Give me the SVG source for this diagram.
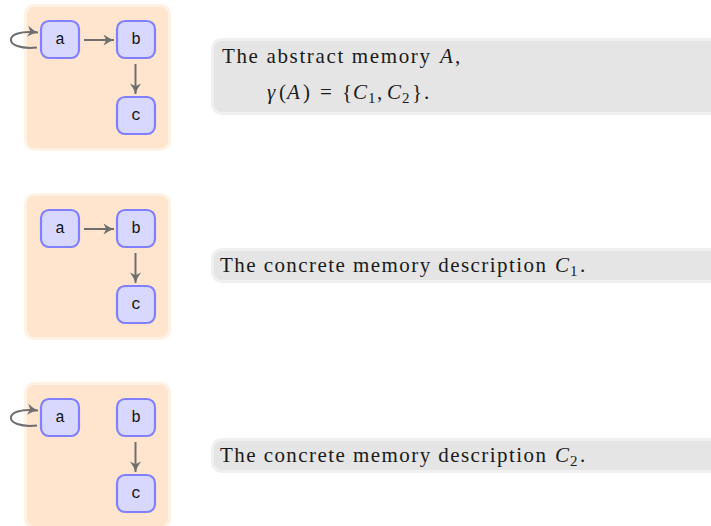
<svg xmlns="http://www.w3.org/2000/svg" width="711" height="526" viewBox="0 0 711 526">
<style>
.panel{fill:#ffe5ce;stroke:#fff1e4;stroke-width:3}
.node rect{fill:#d8d8ff;stroke:#8080ff;stroke-width:2.2}
.node text{font-family:"Liberation Mono",monospace;font-size:16px;fill:#111;text-anchor:middle}
.box{fill:#e5e5e5;stroke:#f0f0f0;stroke-width:3}
.t{font-family:"Liberation Serif",serif;font-size:21px;fill:#1a1a1a}
.m{font-family:"Liberation Serif",serif;font-size:21px;fill:#1a1a1a;font-style:italic}
.s{font-family:"Liberation Serif",serif;font-size:15px;fill:#1a1a1a}
.edge{fill:none;stroke:#6e6e6e;stroke-width:2;marker-end:url(#ah)}
</style>
<defs>
<marker id="ah" markerUnits="userSpaceOnUse" markerWidth="13" markerHeight="13" refX="11" refY="6.5" orient="auto">
<path d="M0.5,1 Q5.5,4.8 11,6.5 Q5.5,8.2 0.5,12 L3.2,6.5 z" fill="#6e6e6e"/>
</marker>
</defs>

<!-- Panel 1 -->
<g id="panel1">
<rect class="panel" x="25.5" y="5.5" width="144" height="144" rx="9"/>
</g>
<g id="p1-a" class="node"><rect x="41" y="21" width="38" height="37" rx="8"/><text x="60" y="44">a</text></g>
<g id="p1-b" class="node"><rect x="117" y="21" width="38" height="37" rx="8"/><text x="136" y="44">b</text></g>
<g id="p1-c" class="node"><rect x="117" y="97" width="38" height="37" rx="8"/><text x="136" y="120">c</text></g>
<g id="p1-edges">
<path class="edge" d="M37,47.5 C2,51 2,28 38,32.5"/>
<path class="edge" d="M84,40 L114,40"/>
<path class="edge" d="M135.5,64 L135.5,94"/>
</g>

<!-- Panel 2 -->
<g id="panel2">
<rect class="panel" x="25.5" y="194.5" width="144" height="144" rx="9"/>
</g>
<g id="p2-a" class="node"><rect x="41" y="210" width="38" height="37" rx="8"/><text x="60" y="233">a</text></g>
<g id="p2-b" class="node"><rect x="117" y="210" width="38" height="37" rx="8"/><text x="136" y="233">b</text></g>
<g id="p2-c" class="node"><rect x="117" y="286" width="38" height="37" rx="8"/><text x="136" y="309">c</text></g>
<g id="p2-edges">
<path class="edge" d="M84,229 L114,229"/>
<path class="edge" d="M135.5,253 L135.5,283"/>
</g>

<!-- Panel 3 -->
<g id="panel3">
<rect class="panel" x="25.5" y="383.5" width="144" height="144" rx="9"/>
</g>
<g id="p3-a" class="node"><rect x="41" y="399" width="38" height="37" rx="8"/><text x="60" y="422">a</text></g>
<g id="p3-b" class="node"><rect x="117" y="399" width="38" height="37" rx="8"/><text x="136" y="422">b</text></g>
<g id="p3-c" class="node"><rect x="117" y="475" width="38" height="37" rx="8"/><text x="136" y="498">c</text></g>
<g id="p3-edges">
<path class="edge" d="M37,425.5 C2,429 2,406 38,410.5"/>
<path class="edge" d="M135.5,442 L135.5,472"/>
</g>

<!-- Description boxes -->
<g id="desc1">
<rect class="box" x="212.5" y="39.5" width="520" height="74" rx="9"/>
<text class="t" x="222" y="63" textLength="208" lengthAdjust="spacing">The abstract memory</text>
<text class="m" x="440" y="63">A</text><text class="t" x="455" y="63">,</text>
<text class="m" x="267" y="99">γ</text>
<text class="t" x="279" y="99">(</text>
<text class="m" x="287" y="99">A</text>
<text class="t" x="303" y="99">)</text>
<text class="t" x="320" y="99">=</text>
<text class="t" x="342" y="99">{</text>
<text class="m" x="353" y="99">C</text>
<text class="s" x="368" y="103">1</text>
<text class="t" x="377" y="99">,</text>
<text class="m" x="387" y="99">C</text>
<text class="s" x="402" y="103">2</text>
<text class="t" x="412" y="99">}</text>
<text class="t" x="424" y="99">.</text>
</g>

<g id="desc2">
<rect class="box" x="212.5" y="249.5" width="520" height="32" rx="9"/>
<text class="t" x="220" y="272" textLength="326" lengthAdjust="spacing">The concrete memory description</text>
<text class="m" x="555" y="272">C</text><text class="s" x="570" y="276">1</text><text class="t" x="580" y="272">.</text>
</g>

<g id="desc3">
<rect class="box" x="212.5" y="439.5" width="520" height="32" rx="9"/>
<text class="t" x="220" y="462" textLength="326" lengthAdjust="spacing">The concrete memory description</text>
<text class="m" x="555" y="462">C</text><text class="s" x="570" y="466">2</text><text class="t" x="580" y="462">.</text>
</g>
</svg>
